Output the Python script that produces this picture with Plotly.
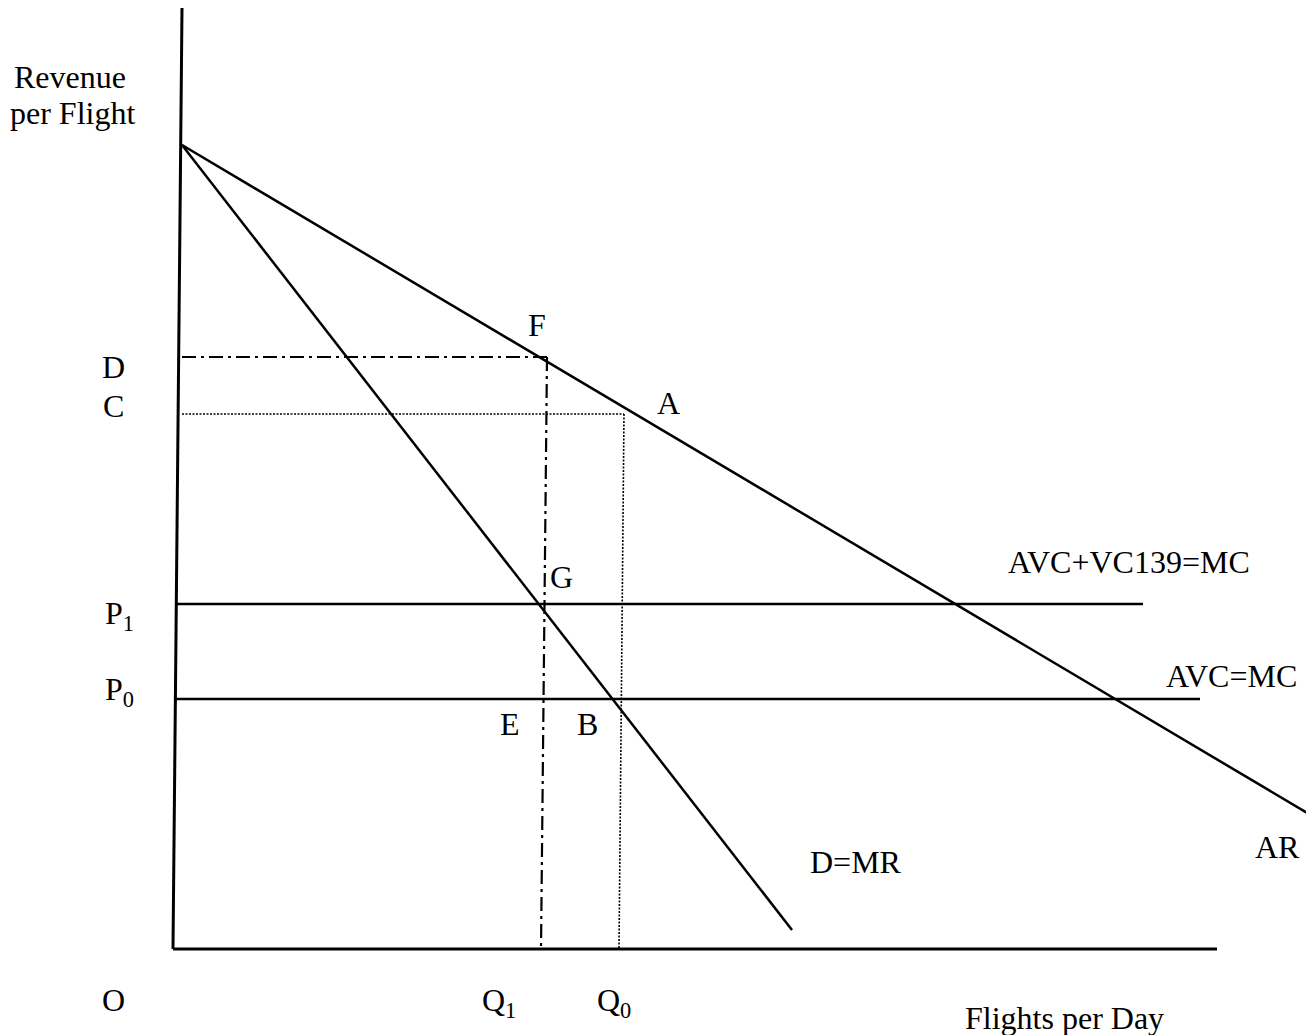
import plotly.graph_objects as go

# ---- data (schematic units: flights per day on x, revenue per flight on y) ----
# Average revenue curve (AR) endpoints
ar_q = [9, 1141]
ar_p = [804, 132]
# Demand = marginal revenue curve (D=MR) endpoints
mr_q = [9, 619]
mr_p = [804, 19]
# Marginal cost levels
p1_level = 345          # AVC+VC139=MC
p1_q = [3, 970]
p0_level = 250          # AVC=MC
p0_q = [1, 1027]
# Price levels D and C, quantities Q1 and Q0
d_level = 592
c_level = 535
q1_q = [374, 368]       # drop line from F to axis (top, bottom)
q0_q = [451, 446]       # drop line from A level to axis (top, bottom)
# axes
yaxis_q = [9, 0]
yaxis_p = [941, 0]
xaxis_q = [0, 1044]
xaxis_p = [0, 0]

# label positions / texts
labels = [
    ("Revenue", -103, 872), ("per Flight", -101, 836),
    ("D", -60, 582), ("C", -60, 543),
    ("P<sub>1</sub>", -54, 334), ("P<sub>0</sub>", -54, 258),
    ("O", -60, -51), ("Q<sub>1</sub>", 326, -53), ("Q<sub>0</sub>", 441, -53),
    ("Flights per Day", 891, -69),
    ("F", 364, 624), ("A", 495, 546), ("G", 388, 372),
    ("E", 337, 225), ("B", 414, 225),
    ("AVC+VC139=MC", 956, 387), ("AVC=MC", 1058, 273),
    ("D=MR", 683, 87), ("AR", 1104, 102),
]

FONT = "Liberation Serif, Times New Roman, serif"
fig = go.Figure()

def line(x, y, width=2.5, dash="solid"):
    fig.add_trace(go.Scatter(x=x, y=y, mode="lines", showlegend=False,
                             hoverinfo="skip",
                             line=dict(color="black", width=width, dash=dash)))

# axes
line(yaxis_q, yaxis_p, width=3)
line(xaxis_q, xaxis_p, width=3)
# curves
line(ar_q, ar_p)
line(mr_q, mr_p)
line(p1_q, [p1_level, p1_level])
line(p0_q, [p0_level, p0_level])
# D / Q1 dash-dot
line([9, q1_q[0]], [d_level, d_level], width=2.2, dash="14px,5px,3px,5px")
line(q1_q, [d_level, 0], width=2.2, dash="14px,5px,3px,5px")
# C / Q0 dotted
line([9, q0_q[0]], [c_level, c_level], width=1.6, dash="2px,1.5px")
line(q0_q, [c_level, 0], width=1.6, dash="2px,1.5px")

for txt, x, y in labels:
    fig.add_annotation(x=x, y=y, text=txt, showarrow=False,
                       xanchor="center", yanchor="middle",
                       font=dict(family=FONT, size=32, color="black"))

# page body has an 8px margin: shift the visible ranges to compensate
fig.update_layout(
    width=1314, height=1035,
    margin=dict(l=0, r=0, t=0, b=0),
    paper_bgcolor="white", plot_bgcolor="white",
    xaxis=dict(range=[-165, 1149], visible=False, fixedrange=True),
    yaxis=dict(range=[-94, 941], visible=False, fixedrange=True),
)

fig.write_html("out.html")
